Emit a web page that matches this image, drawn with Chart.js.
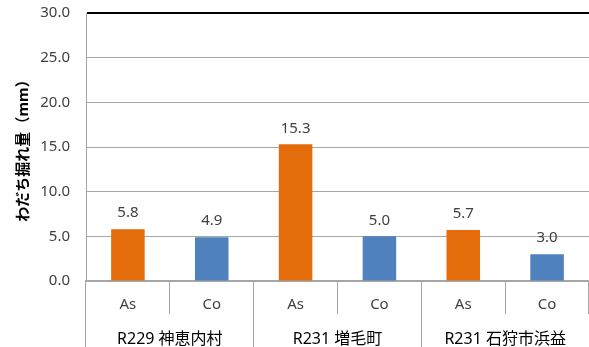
<!DOCTYPE html>
<html>
<head>
<meta charset="utf-8">
<script src="https://cdn.jsdelivr.net/npm/chart.js@4"></script>
<style>
  html, body { margin: 0; padding: 0; background: #fff; }
  #wrap { width: 589px; height: 347px; }
</style>
</head>
<body>
<div id="wrap"><canvas id="chart"></canvas></div>
<script>
const categories = ['As', 'Co', 'As', 'Co', 'As', 'Co'];
const groups = ['R229 神恵内村', 'R231 増毛町', 'R231 石狩市浜益'];
const values = [5.8, 4.9, 15.3, 5.0, 5.7, 3.0];
const yTicks = [0, 5, 10, 15, 20, 25, 30];

const FONT = "'Noto Sans', 'Noto Sans CJK JP', sans-serif";
const colorOf = { As: '#e46c0a', Co: '#4f81bd' };

// data labels above each bar
const valueLabels = {
  id: 'valueLabels',
  afterDatasetsDraw(chart) {
    const ctx = chart.ctx;
    const meta = chart.getDatasetMeta(0);
    ctx.save();
    ctx.font = '15px ' + FONT;
    ctx.fillStyle = '#404040';
    ctx.textAlign = 'center';
    ctx.textBaseline = 'middle';
    meta.data.forEach((bar, i) => {
      ctx.fillText(values[i].toFixed(1), bar.x, bar.y - 16);
    });
    ctx.restore();
  }
};

let config = {
  type: 'bar',
  data: {
    labels: categories,
    datasets: [{
      data: values,
      backgroundColor: categories.map(c => colorOf[c]),
      barPercentage: 0.4,
      categoryPercentage: 1.0
    }]
  },
  options: {
    responsive: true,
    maintainAspectRatio: false,
    animation: false,
    layout: { padding: { top: 13, right: 0, bottom: 0, left: 0 } },
    plugins: {
      legend: { display: false },
      tooltip: { enabled: false }
    },
    scales: {
      x: {
        type: 'category',
        position: 'bottom',
        grid: {
          offset: true,
          drawOnChartArea: false,
          tickLength: 33,
          color: '#a6a6a6',
          lineWidth: 1
        },
        border: { color: '#a6a6a6', width: 2 },
        ticks: {
          padding: -18,
          color: '#404040',
          font: { family: FONT, size: 15 },
          maxRotation: 0,
          autoSkip: false
        },
        afterFit(s) { s.height = 33; }
      },
      x2: {
        type: 'category',
        position: 'bottom',
        labels: groups,
        grid: {
          offset: true,
          drawOnChartArea: false,
          tickLength: 33,
          color: '#a6a6a6',
          lineWidth: 1
        },
        border: { display: false },
        ticks: {
          padding: -17,
          color: '#000',
          font: { family: FONT, size: 16 },
          maxRotation: 0,
          autoSkip: false
        },
        afterFit(s) { s.height = 33; }
      },
      y: {
        min: 0,
        max: 30,
        afterBuildTicks(s) { s.ticks = yTicks.map(v => ({ value: v })); },
        grid: {
          color: c => (c.tick && c.tick.value === 30 ? '#000' : '#a6a6a6'),
          lineWidth: c => (c.tick && c.tick.value === 30 ? 2 : 1),
          drawTicks: false
        },
        border: { color: '#a6a6a6' },
        ticks: {
          padding: 16,
          color: '#404040',
          font: { family: FONT, size: 15 },
          callback: v => Number(v).toFixed(1)
        },
        title: {
          display: true,
          text: 'わだち掘れ量（mm）',
          color: '#000',
          font: { family: FONT, size: 15, weight: 'bold' },
          padding: { top: 15, bottom: 0 }
        },
        afterFit(s) {
          s.width = 86;
          s.paddingTop = 0;
          s.paddingBottom = 0;
        }
      }
    }
  },
  plugins: [valueLabels]
};

let barChart = new Chart(document.getElementById('chart'), config);
</script>
</body>
</html>
